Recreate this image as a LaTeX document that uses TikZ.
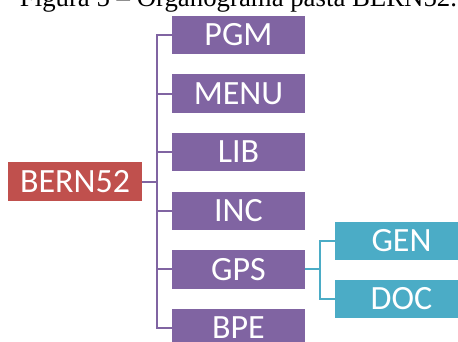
\documentclass[tikz,border=0pt]{standalone}
\usepackage{fontspec}
\setmainfont{Carlito}
\newfontfamily\captionfont{Liberation Serif}
\usepackage{tikz}
\definecolor{bernred}{HTML}{C0504D}
\definecolor{dirpurple}{HTML}{8064A2}
\definecolor{subteal}{HTML}{4BACC6}

\begin{document}
\begin{tikzpicture}[x=1pt, y=-1pt,
		box/.style={minimum width=133pt, minimum height=38.5pt, inner sep=0pt,
			text=white, font=\fontsize{34}{40}\selectfont, text height=21.5pt, text depth=0pt},
		rootbox/.style={box, fill=bernred, minimum width=134pt},
		dirbox/.style={box, fill=dirpurple},
		subbox/.style={box, fill=subteal},
		dirline/.style={draw=dirpurple, line width=2pt},
		subline/.style={draw=subteal, line width=2pt}]
			\useasboundingbox (0,0) rectangle (458,341);
			
			% caption, cut off by the page top
			\node[anchor=base, inner sep=0pt, font=\captionfont\fontsize{26.8}{30}\selectfont] (caption) at (238.5,6.5) {Figura 5 – Organograma pasta BERN52.};
			
			\node[rootbox] (bern) at (75,181.5) {BERN52};
			
			\node[dirbox] (pgm) at (238.5,35) {PGM};
			\node[dirbox] (menu) at (238.5,93.6) {MENU};
			\node[dirbox] (lib) at (238.5,152.2) {LIB};
			\node[dirbox] (inc) at (238.5,210.8) {INC};
			\node[dirbox] (gps) at (238.5,269.4) {GPS};
			\node[dirbox] (bpe) at (238.5,328) {BPE};
			
			\node[subbox] (gen) at (401.5,241) {GEN};
			\node[subbox] (doc) at (401.5,299) {DOC};
			
			% tree lines
			\coordinate (trunk) at (157,181.5);
			\draw[dirline] (bern) -- (trunk);
			\draw[dirline] (trunk) |- (pgm);
			\draw[dirline] (trunk) |- (menu);
			\draw[dirline] (trunk) |- (lib);
			\draw[dirline] (trunk) |- (inc);
			\draw[dirline] (trunk) |- (gps);
			\draw[dirline] (trunk) |- (bpe);
			
			\coordinate (branch) at (320,269.4);
			\draw[subline] (gps) -- (branch);
			\draw[subline] (branch) |- (gen);
			\draw[subline] (branch) |- (doc);
			
\end{tikzpicture}
\end{document}
